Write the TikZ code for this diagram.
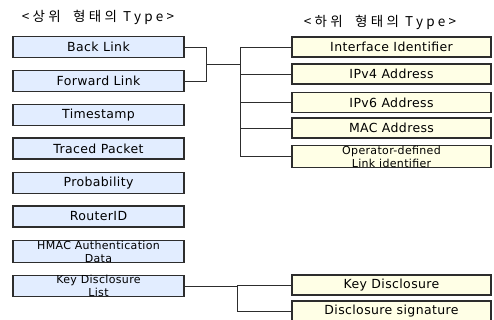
\documentclass[tikz,border=0pt]{standalone}
\usepackage{fontspec}
\setmainfont[LetterSpace=3]{DejaVu Sans}
\newfontfamily\krfont[LetterSpace=24]{Noto Sans CJK KR}
\usetikzlibrary{positioning}

\definecolor{upperfill}{RGB}{226,237,255}
\definecolor{lowerfill}{RGB}{255,255,230}
\definecolor{boxline}{RGB}{45,45,45}

\tikzset{
	upper/.style={draw=boxline, line width=1.1pt, fill=upperfill, minimum width=171pt, minimum height=21pt, inner sep=0pt, font=\fontsize{12.5}{12.5}\selectfont},
	lower/.style={draw=boxline, line width=1.1pt, fill=lowerfill, minimum width=199pt, minimum height=20pt, inner sep=0pt, font=\fontsize{12.5}{12.5}\selectfont},
	twoline/.style={align=center, font=\fontsize{11}{13}\selectfont},
	link/.style={draw=boxline, line width=0.9pt},
	heading/.style={font=\krfont\fontsize{13.5}{13.5}\selectfont}
}

\begin{document}
\begin{tikzpicture}[x=1pt, y=-1pt]
	\useasboundingbox (0,0) rectangle (494,320);

	% headings
	\node [heading] (uphead) at (98,17) {<상위\ \ 형태의\ Type>};
	\node [heading] (lowhead) at (380,22) {<하위\ \ 형태의\ Type>};

	% upper types
	\node [upper] (back) at (98.5,47) {Back Link};
	\node [upper] (fwd) at (98.5,81) {Forward Link};
	\node [upper] (stamp) at (98.5,115) {Timestamp};
	\node [upper] (traced) at (98.5,148.5) {Traced Packet};
	\node [upper] (prob) at (98.5,183) {Probability};
	\node [upper] (router) at (98.5,216.5) {RouterID};
	\node [upper, twoline] (hmac) at (98.5,251.5) {HMAC Authentication\\Data};
	\node [upper, twoline] (kdl) at (98.5,286) {Key Disclosure\\List};

	% lower types
	\node [lower] (iface) at (391.5,47) {Interface Identifier};
	\node [lower] (ipv4) at (391.5,74) {IPv4 Address};
	\node [lower] (ipv6) at (391.5,102.5) {IPv6 Address};
	\node [lower] (mac) at (391.5,128) {MAC Address};
	\node [lower, twoline] (oper) at (391.5,156.5) {Operator-defined\\Link identifier};
	\node [lower] (kdisc) at (391.5,285) {Key Disclosure};
	\node [lower] (sig) at (391.5,311) {Disclosure signature};

	% link types
	\coordinate (j1) at (206,64);
	\coordinate (j2) at (240,64);
	\draw [link] (back.east) -| (j1);
	\draw [link] (fwd.east) -| (j1);
	\draw [link] (j1) -- (j2);
	\draw [link] (j2 |- iface.west) -- (j2 |- oper.west);
	\foreach \n in {iface,ipv4,ipv6,mac,oper}
		\draw [link] (j2 |- \n.west) -- (\n.west);

	% key disclosure
	\coordinate (j3) at (237,286);
	\draw [link] (kdl.east) -- (j3) |- (sig.west);
	\draw [link] (j3 |- kdisc.west) -- (kdisc.west);

\end{tikzpicture}
\end{document}
